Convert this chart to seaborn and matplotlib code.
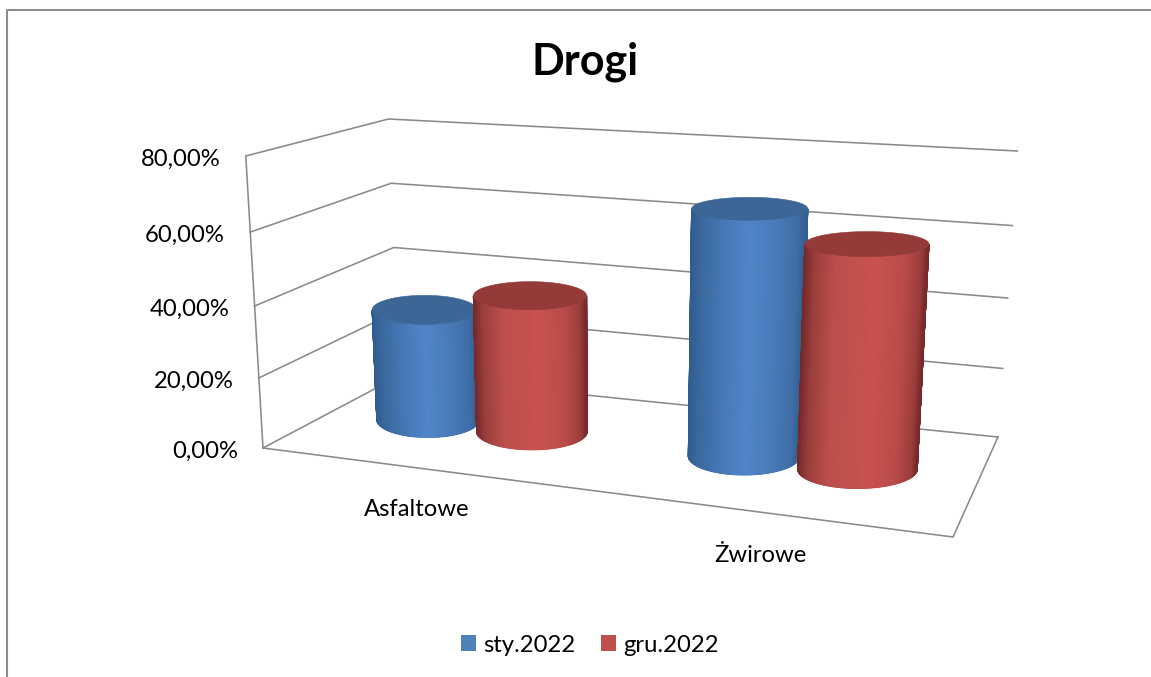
import numpy as np
import pandas as pd
import seaborn as sns
import matplotlib
matplotlib.use("Agg")
import matplotlib.pyplot as plt
from matplotlib.colors import LinearSegmentedColormap
from matplotlib.patches import Patch, Polygon

title = "Drogi"
categories = ["Asfaltowe", "Żwirowe"]
series_names = ["sty.2022", "gru.2022"]
sty_2022 = [32.3, 68.4]
gru_2022 = [39.3, 61.5]
y_ticks = [0, 20, 40, 60, 80]
y_tick_labels = ["0,00%", "20,00%", "40,00%", "60,00%", "80,00%"]

df = pd.DataFrame({"kategoria": categories, series_names[0]: sty_2022, series_names[1]: gru_2022})
long_df = df.melt("kategoria", var_name="seria", value_name="wartosc")

sns.set_theme(style="white")
plt.rcParams["font.family"] = ["Lato", "DejaVu Sans"]
palette = sns.color_palette(["#4F81BD", "#C0504D"])

W, H = 1151, 677
fig = plt.figure(figsize=(W / 100, H / 100), dpi=100, facecolor="white")
ax = fig.add_axes([0, 0, 1, 1])
ax.set_xlim(0, W)
ax.set_ylim(H, 0)
ax.axis("off")

# 3-D box: floor corners in screen space and wall heights
FL, FR, BR, BL = (263, 448), (953, 537), (998, 437), (399, 376)
H_FL, H_FR, H_BR, H_BL = 292, 320, 286, 257
VMAX = 80.0
VX, TILT, PERSP = 610.0, 0.00062, 0.058


def floor(u, v):
    f = np.array(FL) * (1 - u) + np.array(FR) * u
    b = np.array(BL) * (1 - u) + np.array(BR) * u
    return f * (1 - v) + b * v


def wall_h(u, v):
    return (H_FL * (1 - u) + H_FR * u) * (1 - v) + (H_BL * (1 - u) + H_BR * u) * v


def project(u, v, val):
    x, y = floor(u, v)
    f = val / VMAX
    c = PERSP * (1 - (1 - u) * v)
    f = f / (1 + c * (1 - f))
    return x + (x - VX) * TILT * val, y - wall_h(u, v) * f


GRID = dict(color="#8A8A8A", lw=1.15, solid_capstyle="projecting", zorder=1)
for t in y_ticks:
    pts = np.array([project(0, 0, t), project(0, 1, t), project(1, 1, t)])
    ax.plot(pts[:, 0], pts[:, 1], **GRID)
a, b = project(0, 0, 0), project(0, 0, VMAX)
ax.plot([a[0], b[0]], [a[1], b[1]], **GRID)
pts = np.array([project(0, 0, 0), project(1, 0, 0), project(1, 1, 0)])
ax.plot(pts[:, 0], pts[:, 1], **GRID)

FS = 17.2
for t, lab in zip(y_ticks, y_tick_labels):
    x, y = project(0, 0, t)
    ax.text(x - 25, y + 3.5, lab, ha="right", va="center", fontsize=FS, color="black")

CMAPS = [
    LinearSegmentedColormap.from_list("b", [(0, "#2F5D90"), (.08, "#3A689E"), (.25, "#4576B3"), (.5, "#5085C8"),
                                            (.72, "#4A7CBC"), (.92, "#3F6DA6"), (1, "#315F90")]),
    LinearSegmentedColormap.from_list("r", [(0, "#75292A"), (.08, "#9A3E3C"), (.25, "#BC4F4C"), (.58, "#C9524F"),
                                            (.82, "#B94B49"), (.95, "#9A3C3B"), (1, "#78292A")]),
]
TOPS = ["#3C6696", "#943A38"]
CYL_U = [[0.143, 0.305], [0.636, 0.813]]
SER_RX = [-2.0, 0.5]
CYL_V = 0.54


def ry_at(y):
    return 12.5 + 0.030 * (y - 243)


def cylinder(u, val, s, z):
    bx, by = project(u, CYL_V, 0)
    tx, ty = project(u, CYL_V, val)
    rb = 52 + 9 * u + SER_RX[s]
    rt = rb * (1 + TILT * val)
    ryb, ryt = ry_at(by), ry_at(ty)
    th = np.linspace(np.pi, 0, 181)
    xt = tx + rt * np.cos(th); yt = ty + ryt * np.sin(th)
    xb = bx + rb * np.cos(th); yb = by + ryb * np.sin(th)
    X = np.vstack([xt, 0.5 * (xt + xb), xb])
    Y = np.vstack([yt, 0.5 * (yt + yb), yb])
    frac = (np.cos(th) + 1) / 2
    C = np.vstack([frac, frac, frac])
    ax.pcolormesh(X, Y, C, shading="gouraud", cmap=CMAPS[s], vmin=0, vmax=1, zorder=z)
    al = np.linspace(0, 2 * np.pi, 200)
    ax.add_patch(Polygon(np.c_[tx + rt * np.cos(al), ty + ryt * np.sin(al)], closed=True,
                         fc=TOPS[s], ec=TOPS[s], lw=0.4, zorder=z + 0.5))


z = 3
for c_i, cat in enumerate(categories):
    for s_i, name in enumerate(series_names):
        val = long_df[(long_df.kategoria == cat) & (long_df.seria == name)].wartosc.iloc[0]
        cylinder(CYL_U[c_i][s_i], val, s_i, z)
        z += 1
ax.set_xlim(0, W)
ax.set_ylim(H, 0)

ax.text(417, 510, categories[0], ha="center", va="center", fontsize=FS, color="black")
ax.text(760, 556, categories[1], ha="center", va="center", fontsize=FS, color="black")
ax.text(585, 62, title, ha="center", va="center", fontsize=31, fontweight="bold", color="black")

handles = [Patch(facecolor=palette[i], edgecolor="none", label=series_names[i]) for i in range(2)]
ax.legend(handles=handles, loc="center", bbox_to_anchor=(590, 645), bbox_transform=ax.transData, ncol=2,
          frameon=False, fontsize=FS, handlelength=0.63, handleheight=0.63, handletextpad=0.3,
          columnspacing=1.05, labelcolor="black")

BORDER = dict(color="#8C8C8C", lw=1.5, solid_capstyle="butt", zorder=0)
ax.plot([7, 7, W], [H, 9.5, 9.5], **BORDER)

fig.savefig("out.png", dpi=100)
